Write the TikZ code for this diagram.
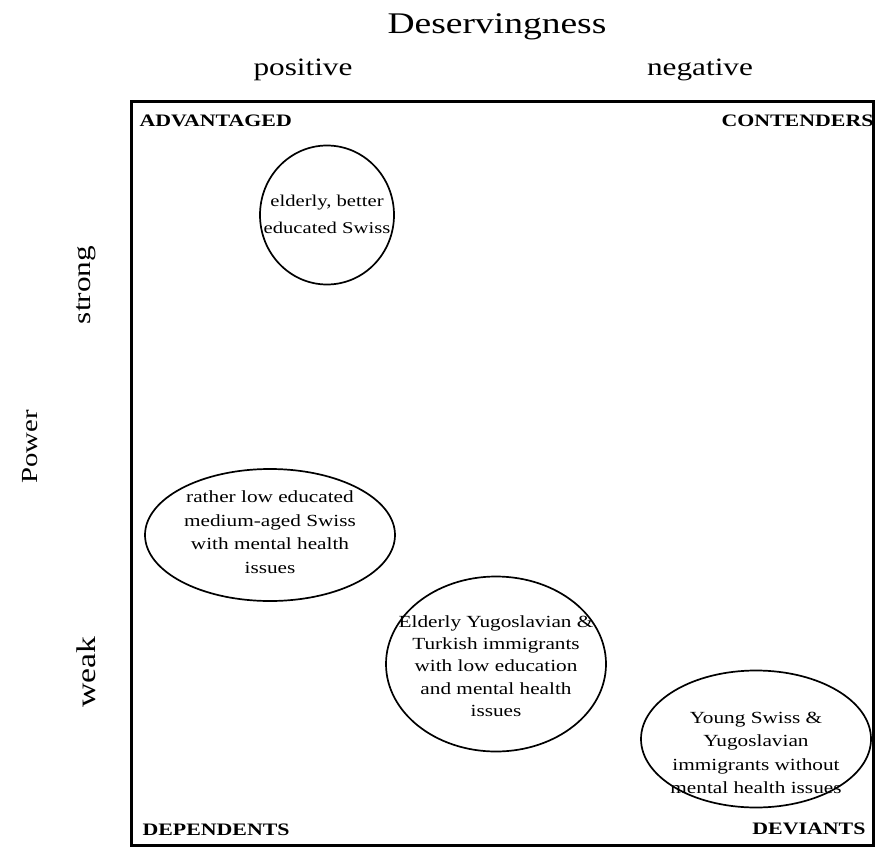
\documentclass[tikz,border=0pt]{standalone}
\usepackage{fontspec}
\setmainfont{Liberation Serif}[FakeStretch=1.25]
\usetikzlibrary{shapes.geometric}
\begin{document}
\begin{tikzpicture}[x=1pt,y=-1pt,
  ell/.style={draw,line width=1.7pt,ellipse,inner sep=0pt},
  etext/.style={align=center,inner sep=0pt,font=\fontsize{17}{23.5}\selectfont},
  axis/.style={font=\fontsize{25}{28}\selectfont},
  quad/.style={font=\fontsize{17.5}{20}\selectfont\bfseries}]
\useasboundingbox (0,0) rectangle (875,848);
\node[draw,line width=3pt,minimum width=742pt,minimum height=743pt,inner sep=0pt] (box) at (502.5,473.5) {};
\node[font=\fontsize{30}{34}\selectfont] (des) at (497,27) {Deservingness};
\node[axis] (pos) at (303,70) {positive};
\node[axis] (neg) at (700,70) {negative};
\node[axis,rotate=90,font=\fontsize{23}{26}\selectfont] (pow) at (30,447) {Power};
\node[axis,rotate=90] (str) at (86,285) {strong};
\node[axis,rotate=90,font=\fontsize{27}{30}\selectfont] (wk) at (86,672) {weak};
\node[quad,anchor=west] (adv) at (136,121) {ADVANTAGED};
\node[quad,anchor=east] (con) at (877,121) {CONTENDERS};
\node[quad,anchor=west] (dep) at (139,830) {DEPENDENTS};
\node[quad,anchor=east] (dev) at (869,829) {DEVIANTS};
\node[ell,minimum width=134pt,minimum height=139pt] (e1) at (327,215) {};
\node[etext,font=\fontsize{16.5}{27}\selectfont] (t1) at (327,214) {elderly, better\\educated Swiss};
\node[ell,minimum width=250pt,minimum height=132pt] (e2) at (270,535) {};
\node[etext] (t2) at (270,532) {rather low educated\\medium-aged Swiss\\with mental health\\issues};
\node[ell,minimum width=220pt,minimum height=175pt] (e3) at (496,664) {};
\node[etext,font=\fontsize{17}{22.2}\selectfont] (t3) at (496,666) {Elderly Yugoslavian \&\\Turkish immigrants\\with low education\\and mental health\\issues};
\node[ell,minimum width=230pt,minimum height=137pt] (e4) at (756,739) {};
\node[etext] (t4) at (756,753) {Young Swiss \&\\Yugoslavian\\immigrants without\\mental health issues};
\end{tikzpicture}
\end{document}
